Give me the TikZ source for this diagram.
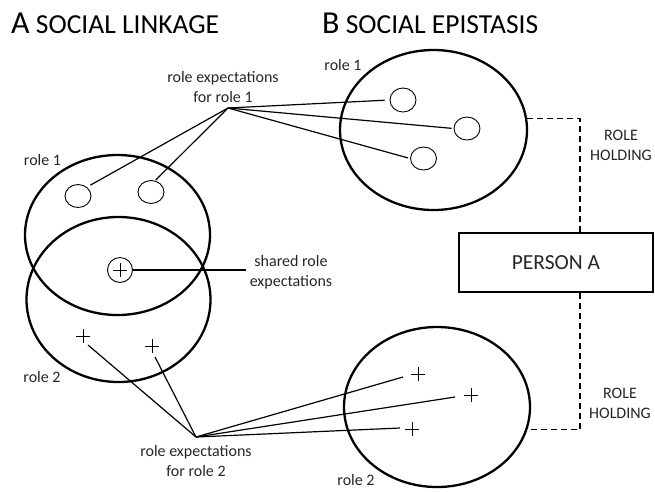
\documentclass[tikz,border=0pt]{standalone}
\usepackage{fontspec}
\setmainfont{Carlito}
\usetikzlibrary{shapes.geometric,calc}
\begin{document}
\begin{tikzpicture}[x=1pt,y=-1pt,
  bigrole/.style={ellipse, draw, line width=2.3pt, inner sep=0pt},
  expect/.style={ellipse, draw, line width=0.9pt, inner sep=0pt, minimum width=26pt, minimum height=23pt},
  plusmark/.style={inner sep=0pt, minimum size=14pt,
    path picture={\draw[line width=0.8pt] (path picture bounding box.north) -- (path picture bounding box.south)
      (path picture bounding box.west) -- (path picture bounding box.east);}},
  sharedmark/.style={circle, draw, line width=0.9pt, inner sep=0pt, minimum size=25pt,
    path picture={\draw[line width=0.8pt] (path picture bounding box.center) ++(-7,0) -- ++(14,0)
      (path picture bounding box.center) ++(0,-7) -- ++(0,14);}},
  conn/.style={line width=1.2pt},
  holding/.style={line width=1.8pt, dash pattern=on 6pt off 4pt},
  lbl/.style={font=\fontsize{16}{20}\selectfont, align=center, inner sep=0pt, text=black!85},
  title/.style={anchor=base west, inner sep=0pt, text=black}
]
\useasboundingbox (0,0) rectangle (655,491);

% titles
\node[title] (ta) at (11,33) {\fontsize{32}{32}\selectfont A\fontsize{27.5}{27.5}\selectfont\ SOCIAL LINKAGE};
\node[title] (tb) at (322,33) {\fontsize{32}{32}\selectfont B\fontsize{27.5}{27.5}\selectfont\ SOCIAL EPISTASIS};

% A: social linkage
\node[bigrole, minimum width=185pt, minimum height=160pt] (A1) at (117.5,235) {};
\node[bigrole, minimum width=184pt, minimum height=165pt] (A2) at (118.5,299.5) {};
\node[expect] (a1) at (78,196) {};
\node[expect] (a2) at (151,192) {};
\node[sharedmark] (sh) at (120,270) {};
\node[plusmark] (p1) at (83,336) {};
\node[plusmark] (p2) at (152,346) {};

\node[lbl] (rA1) at (42.5,160) {role 1};
\node[lbl] (rA2) at (42,377) {role 2};
\node[lbl, inner sep=4pt] (shl) at (291,272) {shared role\\expectations};
\node[lbl] (re1) at (223,87) {role expectations\\for role 1};
\node[lbl] (re2) at (196,461) {role expectations\\for role 2};

\coordinate (c1) at (228,108);
\coordinate (c2) at (196,437);

% B: social epistasis
\node[bigrole, minimum width=187pt, minimum height=160pt] (B1) at (433.5,130) {};
\node[bigrole, minimum width=186pt, minimum height=160pt] (B2) at (437,407) {};
\node[expect, minimum height=24pt] (b1) at (403,100) {};
\node[expect] (b2) at (467,128.5) {};
\node[expect] (b3) at (423.5,158.5) {};
\node[plusmark] (q1) at (418,374) {};
\node[plusmark] (q2) at (471,395) {};
\node[plusmark] (q3) at (412,429) {};

\node[lbl] (rB1) at (343,65) {role 1};
\node[lbl] (rB2) at (356,480) {role 2};
\node[lbl] (h1) at (621,145) {ROLE\\HOLDING};
\node[lbl] (h2) at (620,403) {ROLE\\HOLDING};

\node[draw, line width=1.3pt, minimum width=194pt, minimum height=59pt, inner sep=0pt,
      font=\fontsize{21.5}{21.5}\selectfont, text=black!85] (pa) at (556,262.5) {PERSON A};

\coordinate (hx) at (580,0);

% connectors for role 1
\draw[conn, shorten >=4pt] (c1) -- (a1.45);
\draw[conn, shorten >=1pt] (c1) -- (a2.70);
\draw[conn, shorten >=5pt] (c1) -- (b1.west);
\draw[conn, shorten >=2pt] (c1) -- (b2.west);
\draw[conn, shorten >=2pt] (c1) -- (b3.west);

% connectors for role 2
\draw[conn] (c2) -- ($(p1)+(5,9)$);
\draw[conn] (c2) -- ($(p2)+(3,11)$);
\draw[conn] (c2) -- ($(q1)+(-15,3)$);
\draw[conn] (c2) -- ($(q2)+(-16,2)$);
\draw[conn] (c2) -- ($(q3)+(-12,-1)$);

% shared
\draw[conn] (sh.east) -- (sh.east -| shl.west);

% role holding
\draw[holding] (B1.7.4) -| (hx |- pa.north);
\draw[holding] (hx |- pa.south) |- (B2.-14.5);
\end{tikzpicture}
\end{document}
